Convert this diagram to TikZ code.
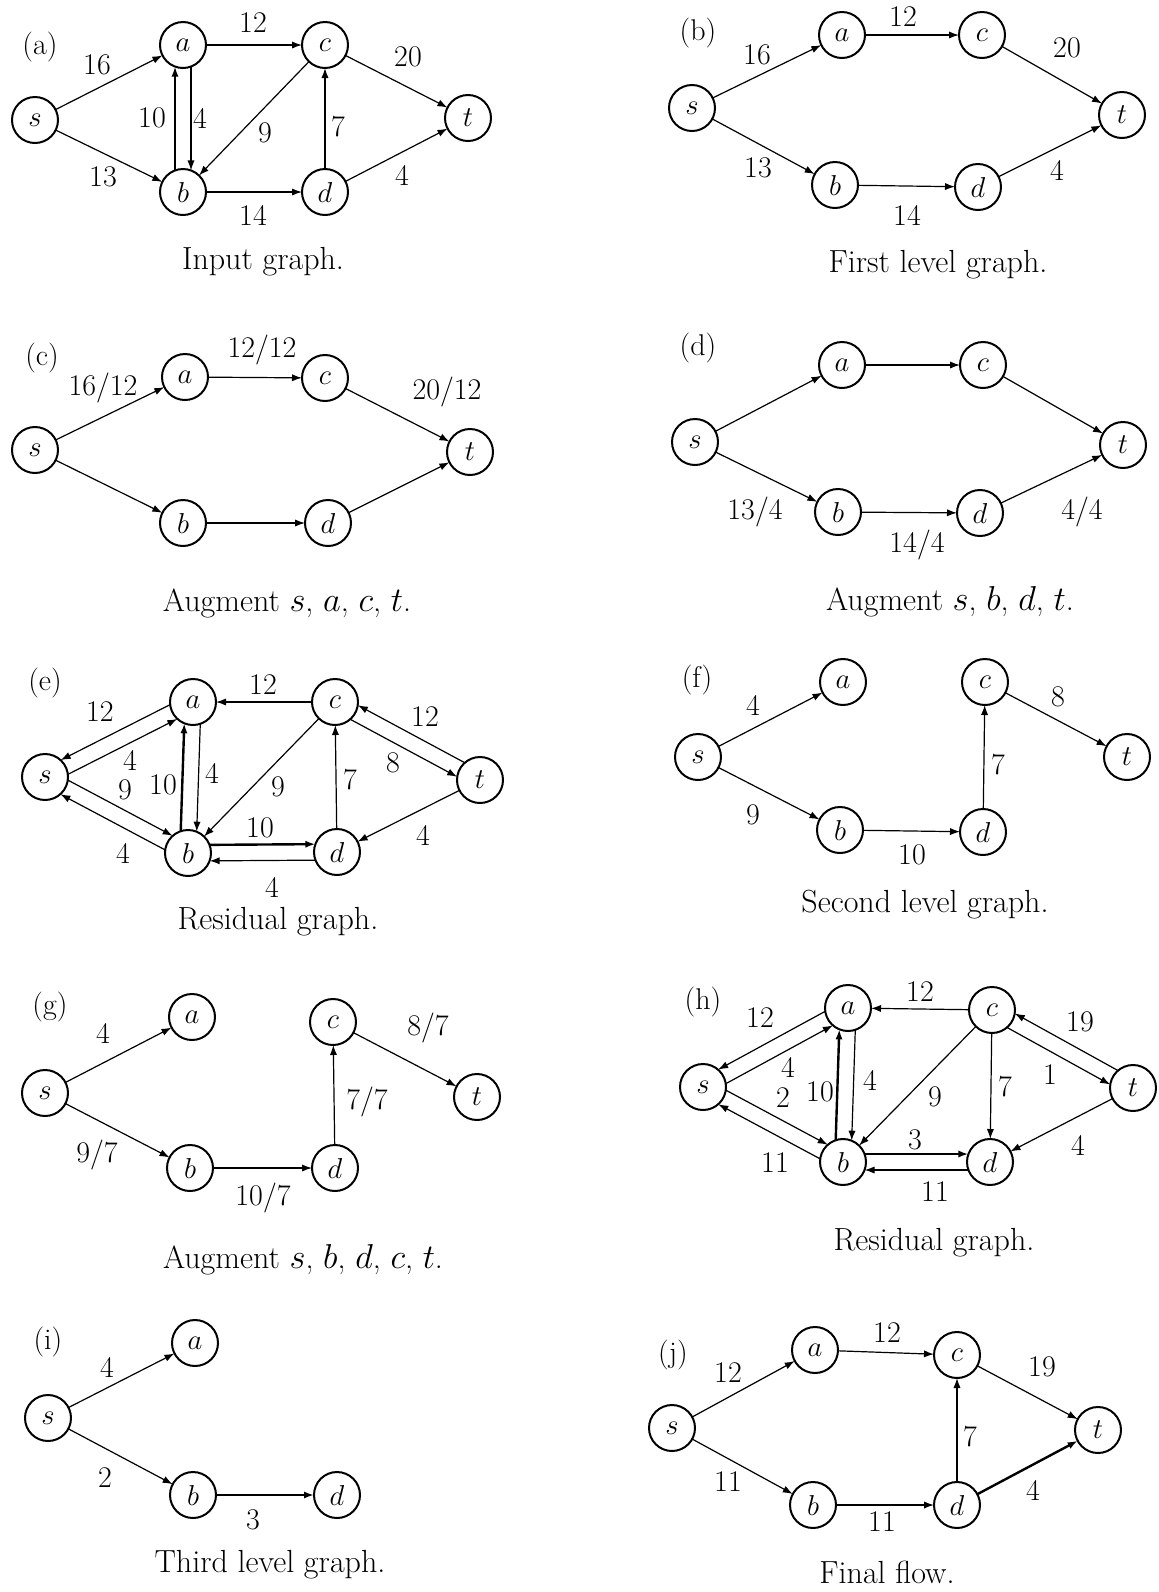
\documentclass[tikz,border=0pt]{standalone}
\usepackage{amsmath}
\usepackage{tikz}
\usetikzlibrary{arrows.meta,calc}
\newcommand\gap{4pt}
% offset edge of a pair: from, to, angle at from, angle at to
\newcommand\twin[5][]{\draw[arr,twin,#1] ($(#2)!\gap!#4:(#3)$) -- ($(#3)!\gap!#5:(#2)$);}
\tikzset{
  vtx/.style={circle,draw,line width=1pt,minimum size=23pt,inner sep=0pt,outer sep=0pt,
    font=\fontsize{15.5}{18}\selectfont},
  lbl/.style={inner sep=1pt,font=\fontsize{15}{18}\selectfont},
  tagl/.style={lbl},
  capt/.style={inner sep=1pt,font=\fontsize{16}{19}\selectfont},
  arr/.style={-{Latex[length=5pt,width=3.6pt]},line width=0.6pt},
  heavy/.style={line width=1.2pt},
  twin/.style={shorten <=10.8pt,shorten >=10.8pt}
}

\begin{document}
\begin{tikzpicture}[x=0.5pt,y=-0.5pt]
\useasboundingbox (0,0) rectangle (1158,1592);

% (a) input graph
\foreach \nm/\x/\y in {s/35/120,a/183/45,c/325/45,t/468/118,b/183/192,d/325/192}
  \node[vtx] (\nm1) at (\x,\y) {$\nm$};
\foreach \p/\q in {s1/a1,s1/b1,a1/c1,c1/t1,b1/d1,d1/t1,d1/c1,c1/b1}
  \draw[arr] (\p) -- (\q);
\twin[heavy]{b1}{a1}{90}{-90}
\twin{a1}{b1}{90}{-90}
\foreach \t/\x/\y [count=\i] in {16/97/65,12/253/23,20/408/57,10/152/118,4/200/118,
    9/265/133,7/338/127,13/103/177,14/253/215,4/402/175}
  \node[lbl] (w1\i) at (\x,\y) {\t};
\node[tagl] (tag1) at (40,47) {(a)};
\node[capt] (cap1) at (263,262) {Input graph.};

% (b) first level graph
\foreach \nm/\x/\y in {s/692/108,a/842/35,c/982/35,t/1122/115,b/835/185,d/978/187}
  \node[vtx] (\nm2) at (\x,\y) {$\nm$};
\foreach \p/\q in {s2/a2,s2/b2,a2/c2,c2/t2,b2/d2,d2/t2}
  \draw[arr] (\p) -- (\q);
\foreach \t/\x/\y [count=\i] in {16/757/55,12/903/17,20/1067/48,13/758/168,14/907/215,4/1057/170}
  \node[lbl] (w2\i) at (\x,\y) {\t};
\node[tagl] (tag2) at (698,33) {(b)};
\node[capt] (cap2) at (938,265) {First level graph.};

% (c) augment s,a,c,t
\foreach \nm/\x/\y in {s/35/450,a/185/377,c/325/378,t/470/452,b/183/523,d/328/523}
  \node[vtx] (\nm3) at (\x,\y) {$\nm$};
\foreach \p/\q in {s3/a3,s3/b3,a3/c3,c3/t3,b3/d3,d3/t3}
  \draw[arr] (\p) -- (\q);
\foreach \t/\x/\y [count=\i] in {{16/12}/103/388,{12/12}/262/350,{20/12}/447/392}
  \node[lbl] (w3\i) at (\x,\y) {\t};
\node[tagl] (tag3) at (42,358) {(c)};
\node[capt] (cap3) at (287,603) {Augment $s$, $a$, $c$, $t$.};

% (d) augment s,b,d,t
\foreach \nm/\x/\y in {s/695/442,a/842/365,c/983/365,t/1123/445,b/838/512,d/980/513}
  \node[vtx] (\nm4) at (\x,\y) {$\nm$};
\foreach \p/\q in {s4/a4,s4/b4,a4/c4,c4/t4,b4/d4,d4/t4}
  \draw[arr] (\p) -- (\q);
\foreach \t/\x/\y [count=\i] in {{13/4}/755/512,{14/4}/917/545,{4/4}/1082/512}
  \node[lbl] (w4\i) at (\x,\y) {\t};
\node[tagl] (tag4) at (698,348) {(d)};
\node[capt] (cap4) at (950,602) {Augment $s$, $b$, $d$, $t$.};

% (e) residual graph
\foreach \nm/\x/\y in {s/45/777,a/193/702,c/335/702,t/480/780,b/188/853,d/337/852}
  \node[vtx] (\nm5) at (\x,\y) {$\nm$};
\foreach \p/\q in {c5/a5,c5/b5,d5/c5,t5/d5}
  \draw[arr] (\p) -- (\q);
\foreach \p/\q/\r/\u in {a5/s5/-90/90,s5/a5/-90/90,s5/b5/90/-90,b5/s5/90/-90,
    a5/b5/90/-90,t5/c5/-90/90,c5/t5/-90/90,d5/b5/90/-90}
  {\twin{\p}{\q}{\r}{\u}}
\twin[heavy]{b5}{a5}{90}{-90}
\twin[heavy]{b5}{d5}{90}{-90}
\foreach \t/\x/\y [count=\i] in {12/100/712,4/130/760,9/125/790,10/163/785,4/212/773,
    12/263/685,9/278/787,7/350/780,8/393/763,12/425/717,4/123/853,10/260/828,4/272/887,4/423/835}
  \node[lbl] (w5\i) at (\x,\y) {\t};
\node[tagl] (tag5) at (45,683) {(e)};
\node[capt] (cap5) at (278,922) {Residual graph.};

% (f) second level graph
\foreach \nm/\x/\y in {s/698/757,a/843/682,c/985/682,t/1127/757,b/840/830,d/983/832}
  \node[vtx] (\nm6) at (\x,\y) {$\nm$};
\foreach \p/\q in {s6/a6,s6/b6,b6/d6,d6/c6,c6/t6}
  \draw[arr] (\p) -- (\q);
\foreach \t/\x/\y [count=\i] in {4/753/705,9/753/815,10/912/855,7/998/765,8/1058/697}
  \node[lbl] (w6\i) at (\x,\y) {\t};
\node[tagl] (tag6) at (697,680) {(f)};
\node[capt] (cap6) at (925,905) {Second level graph.};

% (g) augment s,b,d,c,t
\foreach \nm/\x/\y in {s/45/1093,a/192/1017,c/333/1022,t/477/1097,b/190/1168,d/335/1168}
  \node[vtx] (\nm7) at (\x,\y) {$\nm$};
\foreach \p/\q in {s7/a7,s7/b7,b7/d7,d7/c7,c7/t7}
  \draw[arr] (\p) -- (\q);
\foreach \t/\x/\y [count=\i] in {4/103/1033,{9/7}/97/1155,{10/7}/263/1198,{7/7}/367/1102,{8/7}/428/1028}
  \node[lbl] (w7\i) at (\x,\y) {\t};
\node[tagl] (tag7) at (50,1007) {(g)};
\node[capt] (cap7) at (303,1260) {Augment $s$, $b$, $d$, $c$, $t$.};

% (h) residual graph
\foreach \nm/\x/\y in {s/703/1087,a/848/1008,c/992/1010,t/1133/1088,b/843/1162,d/990/1162}
  \node[vtx] (\nm8) at (\x,\y) {$\nm$};
\foreach \p/\q in {c8/a8,c8/b8,c8/d8,t8/d8}
  \draw[arr] (\p) -- (\q);
\foreach \p/\q/\r/\u in {a8/s8/-90/90,s8/a8/-90/90,s8/b8/90/-90,b8/s8/90/-90,
    a8/b8/90/-90,t8/c8/-90/90,c8/t8/-90/90,d8/b8/90/-90}
  {\twin{\p}{\q}{\r}{\u}}
\twin[heavy]{b8}{a8}{90}{-90}
\twin[heavy]{b8}{d8}{90}{-90}
\foreach \t/\x/\y [count=\i] in {12/760/1018,4/788/1067,2/783/1098,10/820/1092,4/870/1080,
    12/920/992,9/935/1097,7/1005/1087,1/1050/1075,19/1080/1022,11/775/1163,3/915/1140,
    11/935/1192,4/1078/1145}
  \node[lbl] (w8\i) at (\x,\y) {\t};
\node[tagl] (tag8) at (703,1002) {(h)};
\node[capt] (cap8) at (934,1243) {Residual graph.};

% (i) third level graph
\foreach \nm/\x/\y in {s/48/1418,a/195/1343,b/193/1495,d/337/1495}
  \node[vtx] (\nm9) at (\x,\y) {$\nm$};
\draw[arr] (s9) -- (a9);
\draw[arr] (s9) -- (b9);
\draw[arr,heavy] (b9) -- (d9);
\foreach \t/\x/\y [count=\i] in {4/107/1367,2/105/1478,3/253/1520}
  \node[lbl] (w9\i) at (\x,\y) {\t};
\node[tagl] (tag9) at (48,1342) {(i)};
\node[capt] (cap9) at (270,1565) {Third level graph.};

% (j) final flow
\foreach \nm/\x/\y in {s/672/1428,a/815/1350,c/957/1355,t/1098/1430,b/813/1505,d/957/1505}
  \node[vtx] (\nm10) at (\x,\y) {$\nm$};
\foreach \p/\q in {s10/a10,s10/b10,a10/c10,c10/t10,b10/d10,d10/c10}
  \draw[arr] (\p) -- (\q);
\draw[arr,heavy] (d10) -- (t10);
\foreach \t/\x/\y [count=\i] in {12/728/1373,12/887/1333,19/1042/1367,7/970/1437,
    11/728/1482,11/882/1522,4/1033/1490}
  \node[lbl] (w10\i) at (\x,\y) {\t};
\node[tagl] (tag10) at (673,1355) {(j)};
\node[capt] (cap10) at (887,1572) {Final flow.};
\end{tikzpicture}
\end{document}
